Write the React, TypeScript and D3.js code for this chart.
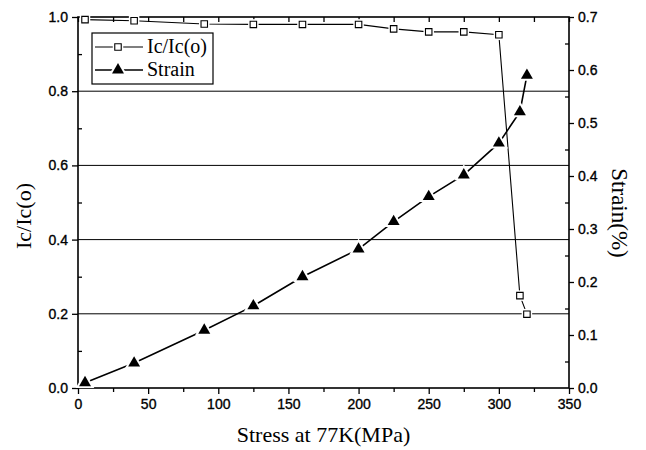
import React, { useEffect, useRef } from 'react';
import * as d3 from 'd3';

// stress (MPa) at which each point was measured
const stress = [5, 40, 90, 125, 160, 200, 225, 250, 275, 300, 315, 320];
// normalised critical current
const icRatio = [0.993, 0.99, 0.981, 0.98, 0.98, 0.98, 0.968, 0.96, 0.96, 0.952, 0.249, 0.199];
// strain in %
const strain = [0.01, 0.047, 0.109, 0.155, 0.21, 0.262, 0.314, 0.361, 0.402, 0.462, 0.521, 0.59];

const xTicks = [0, 50, 100, 150, 200, 250, 300, 350];
const leftTicks = [0, 0.2, 0.4, 0.6, 0.8, 1.0];
const rightTicks = [0, 0.1, 0.2, 0.3, 0.4, 0.5, 0.6, 0.7];
const gridLines = [0.2, 0.4, 0.6, 0.8];

const legendNames = ['Ic/Ic(o)', 'Strain'];

function App() {
  const ref = useRef<SVGSVGElement | null>(null);

  useEffect(() => {
    drawChart();
  }, []);

  function drawChart() {
    const svg = d3.select(ref.current);
    svg.selectAll('*').remove();

    const margin = { top: 17, right: 77, bottom: 62, left: 78 };
    const W = 646, H = 450;
    const width = W - margin.left - margin.right;
    const height = H - margin.top - margin.bottom;

    const g = svg.append('g').attr('transform', `translate(${margin.left},${margin.top})`);

    const x = d3.scaleLinear().domain([0, 350]).range([0, width]);
    const yL = d3.scaleLinear().domain([0, 1]).range([height, 0]);
    const yR = d3.scaleLinear().domain([0, 0.7]).range([height, 0]);

    const tickFont = "'Liberation Sans', Arial, sans-serif";
    const serif = "'Liberation Serif', 'Times New Roman', serif";

    // grid lines
    g.append('g')
      .selectAll('line')
      .data(gridLines)
      .enter()
      .append('line')
      .attr('x1', 0)
      .attr('x2', width)
      .attr('y1', d => yL(d))
      .attr('y2', d => yL(d))
      .attr('stroke', '#000')
      .attr('stroke-width', 1);

    // minor ticks (no labels)
    const minorX = d3.range(25, 350, 50);
    const minorL = [0.1, 0.3, 0.5, 0.7, 0.9];
    const minorR = d3.range(0.05, 0.7, 0.1);

    const styleAxis = (sel: any) => {
      sel.select('.domain').remove();
      sel.selectAll('line').attr('stroke', '#000').attr('stroke-width', 1.3);
      sel.selectAll('text')
        .attr('font-family', tickFont)
        .attr('font-size', 14)
        .attr('fill', '#000')
        .attr('stroke', '#000')
        .attr('stroke-width', 0.35);
    };

    g.append('g')
      .attr('transform', `translate(0,${height})`)
      .call(d3.axisBottom(x).tickValues(xTicks).tickSize(6).tickPadding(5).tickFormat(d3.format('d')))
      .call(styleAxis);
    g.append('g')
      .attr('transform', `translate(0,${height})`)
      .call(d3.axisBottom(x).tickValues(minorX).tickSize(4).tickFormat(() => ''))
      .call(styleAxis);
    g.append('g')
      .call(d3.axisTop(x).tickValues(d3.range(0, 351, 25)).tickSize(-5).tickFormat(() => ''))
      .call(styleAxis);

    g.append('g')
      .call(d3.axisLeft(yL).tickValues(leftTicks).tickSize(6).tickPadding(4).tickFormat(d3.format('.1f')))
      .call(styleAxis);
    g.append('g')
      .call(d3.axisLeft(yL).tickValues(minorL).tickSize(-4).tickFormat(() => ''))
      .call(styleAxis);

    g.append('g')
      .attr('transform', `translate(${width},0)`)
      .call(d3.axisRight(yR).tickValues(rightTicks).tickSize(5).tickPadding(4).tickFormat(d3.format('.1f')))
      .call(styleAxis);
    g.append('g')
      .attr('transform', `translate(${width},0)`)
      .call(d3.axisRight(yR).tickValues(minorR).tickSize(-4).tickFormat(() => ''))
      .call(styleAxis);

    // frame
    g.append('rect')
      .attr('x', 0)
      .attr('y', 0)
      .attr('width', width)
      .attr('height', height)
      .attr('fill', 'none')
      .attr('stroke', '#000')
      .attr('stroke-width', 1.6);

    const icData = stress.map((s, i) => ({ s, v: icRatio[i] }));
    const strainData = stress.map((s, i) => ({ s, v: strain[i] }));

    const icLine = d3.line<any>().x(d => x(d.s)).y(d => yL(d.v));
    const strainLine = d3.line<any>().x(d => x(d.s)).y(d => yR(d.v));

    g.append('path')
      .attr('d', icLine(icData))
      .attr('fill', 'none')
      .attr('stroke', '#000')
      .attr('stroke-width', 1.1);

    g.append('path')
      .attr('d', strainLine(strainData))
      .attr('fill', 'none')
      .attr('stroke', '#000')
      .attr('stroke-width', 1.6);

    const square = d3.symbol().type(d3.symbolSquare).size(42);
    const squareHalo = d3.symbol().type(d3.symbolSquare).size(110);
    const triangle = d3.symbol().type(d3.symbolTriangle).size(62);
    const triangleHalo = d3.symbol().type(d3.symbolTriangle).size(150);

    // white halos give the small gaps between line and marker
    g.append('g')
      .selectAll('path')
      .data(icData)
      .enter()
      .append('path')
      .attr('d', squareHalo as any)
      .attr('transform', d => `translate(${x(d.s)},${yL(d.v)})`)
      .attr('fill', '#fff');
    g.append('g')
      .selectAll('path')
      .data(strainData)
      .enter()
      .append('path')
      .attr('d', triangleHalo as any)
      .attr('transform', d => `translate(${x(d.s)},${yR(d.v)})`)
      .attr('fill', '#fff');

    g.append('g')
      .selectAll('path')
      .data(icData)
      .enter()
      .append('path')
      .attr('d', square as any)
      .attr('transform', d => `translate(${x(d.s)},${yL(d.v)})`)
      .attr('fill', '#fff')
      .attr('stroke', '#000')
      .attr('stroke-width', 1.1);

    g.append('g')
      .selectAll('path')
      .data(strainData)
      .enter()
      .append('path')
      .attr('d', triangle as any)
      .attr('transform', d => `translate(${x(d.s)},${yR(d.v)})`)
      .attr('fill', '#000');

    // legend
    const lg = svg.append('g').attr('transform', 'translate(92,33)');
    lg.append('rect')
      .attr('width', 121)
      .attr('height', 51)
      .attr('fill', '#fff')
      .attr('stroke', '#000')
      .attr('stroke-width', 1.2);
    legendNames.forEach((name, i) => {
      const yy = 14 + i * 23;
      lg.append('line')
        .attr('x1', 3).attr('x2', 51)
        .attr('y1', yy).attr('y2', yy)
        .attr('stroke', '#000')
        .attr('stroke-width', i === 0 ? 1.1 : 1.6);
      lg.append('path')
        .attr('d', (i === 0 ? squareHalo : triangleHalo) as any)
        .attr('transform', `translate(26,${yy})`)
        .attr('fill', '#fff');
      lg.append('path')
        .attr('d', (i === 0 ? square : triangle) as any)
        .attr('transform', `translate(26,${yy})`)
        .attr('fill', i === 0 ? '#fff' : '#000')
        .attr('stroke', i === 0 ? '#000' : 'none')
        .attr('stroke-width', 1.1);
      lg.append('text')
        .attr('x', 55)
        .attr('y', yy + 6)
        .attr('font-family', serif)
        .attr('font-size', 20)
        .text(name);
    });

    // axis titles
    svg.append('text')
      .attr('x', margin.left + width / 2)
      .attr('y', 442)
      .attr('text-anchor', 'middle')
      .attr('font-family', serif)
      .attr('font-size', 22)
      .text('Stress at 77K(MPa)');
    svg.append('text')
      .attr('transform', 'translate(31,216) rotate(-90)')
      .attr('text-anchor', 'middle')
      .attr('font-family', serif)
      .attr('font-size', 22)
      .text('Ic/Ic(o)');
    svg.append('text')
      .attr('transform', 'translate(612,213) rotate(90)')
      .attr('text-anchor', 'middle')
      .attr('font-family', serif)
      .attr('font-size', 23)
      .text('Strain(%)');
  }

  return (
    <svg
      ref={ref}
      width={646}
      height={450}
      style={{ position: 'absolute', left: 0, top: 0, background: '#fff' }}
    />
  );
}

export default App;
